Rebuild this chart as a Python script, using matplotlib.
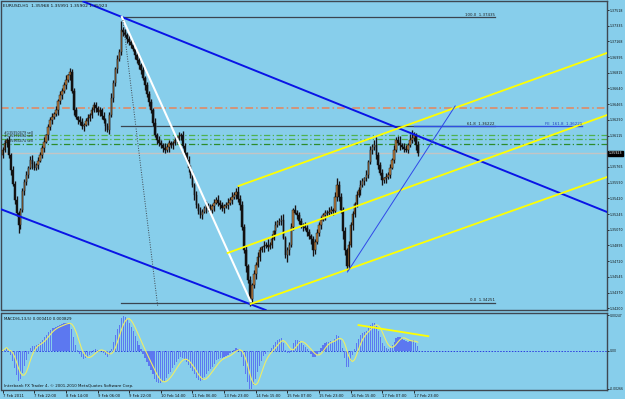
import numpy as np
import matplotlib
matplotlib.use('Agg')
import matplotlib.pyplot as plt
from matplotlib.transforms import blended_transform_factory

# EURUSD H1, closes in pips above 1.3400
BASE = 1.3400
first_open = 190
closes_pips = [
    196, 203, 207, 190, 173, 158, 140, 125, 112, 129,
    150, 160, 168, 176, 185, 180, 176, 179, 184, 190,
    198, 205, 212, 221, 229, 233, 236, 240, 250, 257,
    262, 268, 274, 279, 283, 262, 240, 232, 229, 227,
    222, 224, 228, 231, 235, 240, 246, 243, 238, 240,
    234, 229, 222, 218, 235, 254, 270, 286, 297, 305,
    330, 327, 324, 320, 316, 313, 308, 302, 296, 290,
    285, 276, 268, 258, 249, 240, 226, 212, 207, 203,
    201, 198, 196, 199, 203, 201, 204, 207, 209, 211,
    212, 200, 192, 185, 176, 168, 157, 145, 134, 128,
    123, 127, 131, 134, 131, 129, 133, 137, 140, 137,
    134, 131, 133, 134, 137, 140, 143, 146, 149, 141,
    134, 110, 84, 66, 51, 30, 45, 57, 68, 76,
    84, 87, 89, 90, 88, 90, 97, 105, 112, 115,
    117, 118, 98, 79, 84, 90, 110, 129, 126, 123,
    117, 112, 110, 109, 104, 100, 96, 84, 93, 103,
    112, 118, 123, 125, 126, 127, 129, 128, 143, 157,
    143, 129, 105, 84, 66, 90, 112, 124, 136, 146,
    151, 157, 161, 164, 168, 182, 196, 199, 201, 190,
    179, 170, 162, 164, 166, 168, 176, 185, 196, 207,
    204, 201, 199, 197, 196, 201, 207, 209, 212, 201, 192,
]
# upper / lower shadow length of each bar, pips
wick_up = ("3424253432" "3342453243" "3524342534" "3452433425" "4235243324"
           "3424354253" "9342534243" "3524342534" "4253432425" "3542434253"
           "4325342435" "3424536347" "4535342536" "4253735243" "3562434253"
           "4325342435" "3424354268" "4535243424" "3542534369" "4352434253"
           "47354369435")
wick_dn = ("3243524394" "2434253342" "3425343253" "4342535243" "3524342534"
           "4352435342" "3425342534" "4253434253" "3542534342" "4253542534"
           "3425343524" "4352434253" "5436484353" "4253534242" "3524853424"
           "4352435642" "3425343524" "4385423534" "3524342534" "4253534243"
           "35243424353")

price_ticks = [1.37518, 1.37343, 1.37168, 1.36993, 1.36818, 1.36643, 1.36468,
               1.36293, 1.36118, 1.35943, 1.35768, 1.35593, 1.35418, 1.35243,
               1.35068, 1.34893, 1.34718, 1.34543, 1.34368, 1.34193]
price_labels = ["1.37518", "1.37335", "1.37168", "1.36995", "1.36815", "1.36640",
                "1.36465", "1.36290", "1.36115", "", "1.35765", "1.35590",
                "1.35420", "1.35245", "1.35070", "1.34895", "1.34720", "1.34545",
                "1.34370", "1.34200"]
time_labels = ["7 Feb 2011", "7 Feb 22:00", "8 Feb 14:00", "9 Feb 06:00",
               "9 Feb 22:00", "10 Feb 14:00", "11 Feb 06:00", "13 Feb 23:00",
               "14 Feb 15:00", "15 Feb 07:00", "15 Feb 23:00", "16 Feb 15:00",
               "17 Feb 07:00", "17 Feb 23:00"]

# chart objects, (bar index, price)
channel_top = [(60.3, 1.37440), (305.7, 1.35266)]
channel_bot = [(0.15, 1.35288), (133.0, 1.34173)]
white_line = [(60.3, 1.37440), (125.4, 1.34269)]
dotted_line = [(60.8, 1.37407), (78.4, 1.34218)]
yellow_lo = [(125.4, 1.34240), (305.7, 1.35656)]
yellow_mid = [(113.8, 1.34809), (305.7, 1.36347)]
yellow_hi = [(119.3, 1.35556), (305.7, 1.37039)]
thin_blue = [(174.4, 1.34597), (228.9, 1.36448)]
macd_div = [(180.0, 0.00177), (215.3, 0.00100)]

fib_span = (60.0, 249.0)
fib_levels = [("100.0", 1.37435), ("61.8", 1.36222), ("0.0", 1.34251)]
fe_span = (208.0, 293.0)
fe_level = 1.36221
orange_level = 1.36420
order_levels = [1.36119, 1.36080, 1.36024]
order_labels = ["#135950479 sell", "#135972894 sell", "#135966474 sell"]
order_colors = ['#4FB04F', '#4FB04F', '#2C8C2C']

BG = '#87CEEB'
FRAME = '#3E4852'
SMALL = 2.9
AXIS = 2.35


def ohlc():
    c = BASE + np.array(closes_pips) / 10000.0
    o = np.r_[BASE + first_open / 10000.0, c[:-1]]
    up = np.array([int(ch) for ch in wick_up]) / 10000.0
    dn = np.array([int(ch) for ch in wick_dn]) / 10000.0
    h = np.maximum(o, c) + up
    l = np.minimum(o, c) - dn
    return o, h, l, c


def macd(close, fast=6, slow=13, sig=5):
    s = np.asarray(close)
    def ema(x, n):
        a = 2.0 / (n + 1)
        out = np.empty_like(x)
        out[0] = x[0]
        for i in range(1, len(x)):
            out[i] = a * x[i] + (1 - a) * out[i - 1]
        return out
    main = ema(s, fast) - ema(s, slow)
    signal = np.convolve(main, np.ones(sig) / sig, mode='full')[:len(main)]
    signal[:sig - 1] = main[:sig - 1]
    return main, signal


def seg(ax, pts, **kw):
    (x0, y0), (x1, y1) = pts
    ax.plot([x0, x1], [y0, y1], **kw)


def main():
    o, h, l, c = ohlc()
    x = np.arange(len(c))

    fig = plt.figure(figsize=(6.25, 3.99), dpi=100, facecolor=BG)
    ax = fig.add_axes([1.5 / 625, 89 / 399, 605.5 / 625, 308.5 / 399], facecolor=BG)
    ax2 = fig.add_axes([1.5 / 625, 9 / 399, 605.5 / 625, 77 / 399], facecolor=BG, sharex=ax)

    ax.set_xlim(-0.6, 305.7)
    ax.set_ylim(1.34173, 1.37613)

    # horizontal levels
    ax.axhline(orange_level, color='#E8845A', lw=1.1, ls=(0, (5, 2, 1, 2)), zorder=1)
    for lvl, col in zip(order_levels, order_colors):
        ax.axhline(lvl, color=col, lw=0.9, ls=(0, (5, 2, 1, 2)), zorder=1)
    for lvl, txt in zip(order_levels, order_labels):
        ax.text(0.5, lvl + 0.00010, txt, fontsize=2.4, color='#202020', va='bottom', zorder=6)
    ax.axhline(c[-1], color='#C4C4C4', lw=1.0, zorder=1)

    # fibonacci
    for name, lvl in fib_levels:
        ax.plot(fib_span, [lvl, lvl], color='#3A4550', lw=0.9, zorder=2)
        ax.text(fib_span[1], lvl + 0.00008, f"{name}  {lvl:.5f}", fontsize=SMALL,
                color='#202020', ha='right', va='bottom', zorder=6)
    ax.plot(fe_span, [fe_level, fe_level], color='#3050E0', lw=1.0, zorder=2)
    ax.text(fe_span[1], fe_level + 0.00008, f"FE  161.8  {fe_level:.5f}", fontsize=SMALL,
            color='#2040C0', ha='right', va='bottom', zorder=6)

    # candles, with the faint shadow MT4 draws around them
    up = c >= o
    ax.vlines(x, l, h, color='#6A8A9E', lw=2.0, alpha=0.55, zorder=3)
    ax.vlines(x, l, h, color='#111111', lw=0.7, zorder=3)
    body = np.maximum(np.abs(c - o), 0.00002)
    ax.bar(x[up], body[up], bottom=np.minimum(o, c)[up], width=0.8,
           color='#C08040', edgecolor='#111111', lw=0.35, zorder=4)
    ax.bar(x[~up], body[~up], bottom=np.minimum(o, c)[~up], width=0.8,
           color='#111111', edgecolor='#111111', lw=0.35, zorder=4)

    # trend lines and channels
    ax.axline(channel_top[0], channel_top[1], color='#0A14E6', lw=1.4, zorder=5)
    ax.axline(channel_bot[0], channel_bot[1], color='#0A14E6', lw=1.4, zorder=5)
    seg(ax, white_line, color='white', lw=1.5, zorder=5)
    seg(ax, dotted_line, color='#404850', lw=0.7, ls=(0, (1, 1.5)), zorder=5)
    for pts in (yellow_lo, yellow_mid, yellow_hi):
        seg(ax, pts, color='#FFFF00', lw=1.3, zorder=5)
    seg(ax, thin_blue, color='#3048E8', lw=0.7, zorder=5)

    # current price box
    tr = blended_transform_factory(ax.transAxes, ax.transData)
    ax.text(1.003, c[-1], "1.35923", transform=tr, fontsize=AXIS, color='white',
            va='center', ha='left', zorder=10, clip_on=False,
            bbox=dict(boxstyle='square,pad=0.1', fc='black', ec='black'))

    ax.text(359, 1.3720, "FEB 17 11  9:15  pm", fontsize=8, color='#1E3CF0',
            ha='center', va='center', zorder=6)
    fig.text(3 / 625, 1 - 6 / 399, "EURUSD,H1  1.35968 1.35991 1.35902 1.35923",
             fontsize=3.2, color='#101010', va='center')

    ax.yaxis.tick_right()
    ax.set_yticks(price_ticks)
    ax.set_yticklabels(price_labels)
    ax.tick_params(axis='y', direction='out', length=1.5, width=0.6, pad=0.5,
                   labelsize=AXIS, colors='#111111')
    ax.tick_params(axis='x', bottom=False, labelbottom=False)

    # MACD
    m, s = macd(c)
    ax2.set_ylim(-0.00273, 0.00261)
    ax2.axhline(0, color='#2A3CE0', lw=0.7, ls=(0, (1.5, 1.5)), zorder=1)
    ax2.bar(x, m, width=0.6, color='#5C78F0', zorder=2)
    ax2.plot(x, s, color='#EEEE66', lw=0.8, zorder=3)
    seg(ax2, macd_div, color='#FFFF00', lw=1.3, zorder=4)
    ax2.text(0.5, 0.0022, "MACD(6,13,5) 0.000410 0.000829", fontsize=SMALL,
             color='#101010', va='center', zorder=6)
    ax2.text(0.5, -0.00245, "Interbank FX Trader 4, \u00a9 2001-2010 MetaQuotes Software Corp.",
             fontsize=SMALL, color='#101010', va='center', zorder=6)

    ax2.yaxis.tick_right()
    ax2.set_yticks([0.00247, 0.0, -0.00266])
    ax2.set_yticklabels(["0.00247", "0.00", "-0.00266"])
    ax2.tick_params(axis='y', direction='out', length=1.5, width=0.6, pad=0.5,
                    labelsize=2.2, colors='#111111')
    ax2.set_xticks(np.arange(len(time_labels)) * 16)
    ax2.set_xticklabels(time_labels)
    ax2.tick_params(axis='x', direction='out', length=2.5, width=0.6, pad=0.5,
                    labelsize=2.7, colors='#111111')
    for lbl in ax2.get_xticklabels():
        lbl.set_horizontalalignment('left')

    for a in (ax, ax2):
        for sp in a.spines.values():
            sp.set_color(FRAME)
            sp.set_linewidth(1.0)

    fig.savefig('out.png', dpi=100, facecolor=BG)


if __name__ == "__main__":
    main()
